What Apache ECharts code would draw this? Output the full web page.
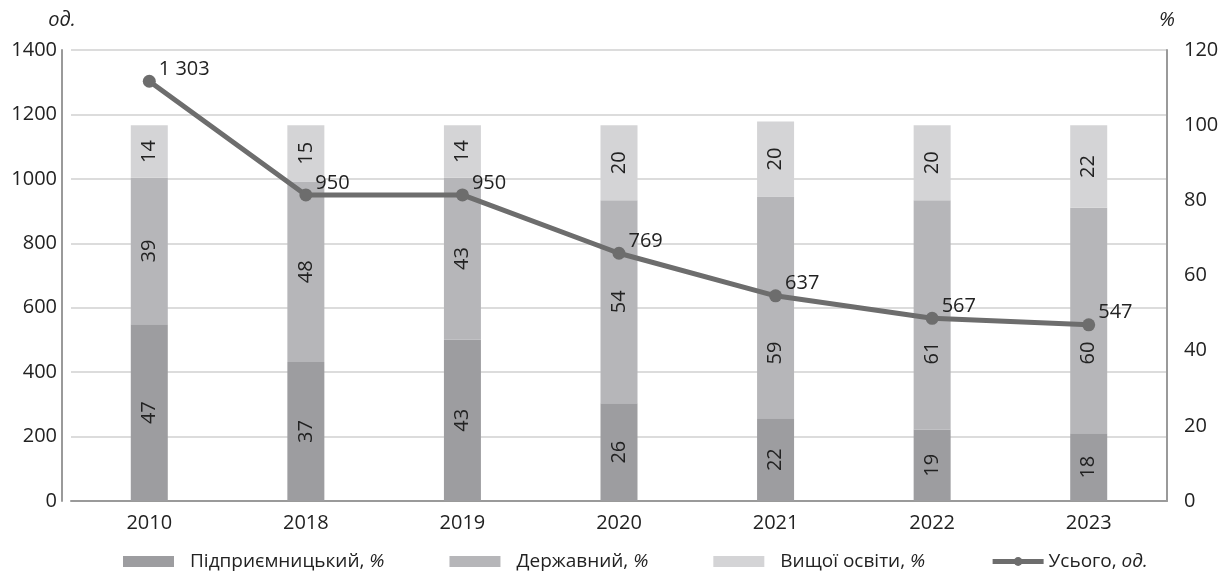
<!DOCTYPE html>
<html>
<head>
<meta charset="utf-8">
<script src="https://cdn.jsdelivr.net/npm/echarts@6/dist/echarts.min.js"></script>
<style>
  html, body { margin: 0; padding: 0; background: #fff; }
  #chart { width: 1230px; height: 577px; }
</style>
</head>
<body>
<div id="chart"></div>
<script>
// Years on the category axis
const years = ['2010', '2018', '2019', '2020', '2021', '2022', '2023'];
// Shares by type, %
const enterprise = [47, 37, 43, 26, 22, 19, 18];
const state = [39, 48, 43, 54, 59, 61, 60];
const higherEdu = [14, 15, 14, 20, 20, 20, 22];
// Total count, units
const total = [1303, 950, 950, 769, 637, 567, 547];

const FONT = '"Open Sans", "Noto Sans", sans-serif';
const TXT = '#222222';

function fmtThousands(v) {
  return String(v).replace(/\B(?=(\d{3})+(?!\d))/g, ' ');
}

function barLabel() {
  return {
    show: true,
    position: 'inside',
    rotate: 90,
    color: TXT,
    fontFamily: FONT,
    fontSize: 20
  };
}

// Middle-segment labels in the last three years sit below the total line
const STATE_LABEL_Y = 353;
const SHIFTED_FROM = 4;

const chart = echarts.init(document.getElementById('chart'), null, { renderer: 'canvas' });

const legendText = { color: TXT, fontSize: 19, fontFamily: FONT };

chart.setOption({
  animation: false,
  textStyle: { fontFamily: FONT },
  grid: { left: 71, right: 63, top: 50, bottom: 76 },
  legend: {
    top: 547,
    left: 118,
    itemWidth: 51,
    itemHeight: 11,
    itemGap: 65,
    textStyle: {
      color: TXT,
      fontSize: 19,
      fontFamily: FONT,
      rich: { i: { fontStyle: 'italic', fontSize: 19, color: TXT, fontFamily: FONT } }
    },
    formatter: function (name) {
      const parts = name.split(', ');
      return parts[0] + ', {i|' + parts[1] + '}';
    },
    data: [
      { name: 'Підприємницький, %', icon: 'rect', textStyle: Object.assign({ padding: [0, 0, 0, 11] }, legendText) },
      { name: 'Державний, %', icon: 'rect', textStyle: Object.assign({ padding: [0, 0, 0, 11] }, legendText) },
      { name: 'Вищої освіти, %', icon: 'rect', textStyle: Object.assign({ padding: [0, 0, 0, 11] }, legendText) },
      { name: 'Усього, од.', lineStyle: { width: 5 }, textStyle: Object.assign({ padding: [0, 0, 0, 0] }, legendText) }
    ]
  },
  xAxis: {
    type: 'category',
    data: years,
    axisLine: { lineStyle: { color: '#9a9a9a', width: 2 } },
    axisTick: { show: false },
    axisLabel: { color: TXT, fontSize: 20, fontFamily: FONT, margin: 12 }
  },
  yAxis: [
    {
      type: 'value',
      min: 0, max: 1400, interval: 200,
      offset: 9,
      name: 'од.',
      nameLocation: 'end',
      nameGap: 20,
      nameTextStyle: { fontStyle: 'italic', fontSize: 20, color: TXT, fontFamily: FONT, align: 'center' },
      axisLine: { show: true, lineStyle: { color: '#9a9a9a', width: 2 } },
      axisTick: { show: false },
      axisLabel: { color: TXT, fontSize: 20, fontFamily: FONT, margin: 5, formatter: function (v) { return String(v); } },
      splitLine: { lineStyle: { color: '#d0d0d0', width: 1.5 } }
    },
    {
      type: 'value',
      min: 0, max: 120, interval: 20,
      name: '%',
      nameLocation: 'end',
      nameGap: 20,
      nameTextStyle: { fontStyle: 'italic', fontSize: 20, color: TXT, fontFamily: FONT, align: 'center' },
      axisLine: { show: true, lineStyle: { color: '#9a9a9a', width: 2 } },
      axisTick: { show: false },
      axisLabel: { color: TXT, fontSize: 20, fontFamily: FONT, margin: 17 },
      splitLine: { show: false }
    }
  ],
  series: [
    {
      name: 'Підприємницький, %',
      type: 'bar',
      stack: 'share',
      yAxisIndex: 1,
      barWidth: 37,
      data: enterprise,
      itemStyle: { color: '#9d9da0' },
      label: barLabel()
    },
    {
      name: 'Державний, %',
      type: 'bar',
      stack: 'share',
      yAxisIndex: 1,
      barWidth: 37,
      data: state,
      itemStyle: { color: '#b6b6b9' },
      label: barLabel()
    },
    {
      name: 'Вищої освіти, %',
      type: 'bar',
      stack: 'share',
      yAxisIndex: 1,
      barWidth: 37,
      data: higherEdu,
      itemStyle: { color: '#d4d4d6' },
      label: barLabel()
    },
    {
      name: 'Усього, од.',
      type: 'line',
      yAxisIndex: 0,
      data: total,
      z: 10,
      symbol: 'circle',
      symbolSize: 13,
      lineStyle: { color: '#6d6d6d', width: 5 },
      itemStyle: { color: '#6d6d6d' },
      label: {
        show: true,
        position: 'right',
        distance: 3,
        offset: [0, -12],
        color: TXT,
        fontSize: 20,
        fontFamily: FONT,
        formatter: function (p) { return fmtThousands(p.value); }
      }
    }
  ]
});

// Move the middle-segment labels of the last years below the line,
// measuring each segment top through the right axis scale.
const stateItems = state.map(function (v, i) {
  if (i < SHIFTED_FROM) return v;
  const topPx = chart.convertToPixel({ yAxisIndex: 1 }, enterprise[i] + v);
  return {
    value: v,
    label: {
      position: ['50%', STATE_LABEL_Y - topPx],
      align: 'center',
      verticalAlign: 'middle'
    }
  };
});
chart.setOption({ series: [{}, { data: stateItems }, {}, {}] });
</script>
</body>
</html>
